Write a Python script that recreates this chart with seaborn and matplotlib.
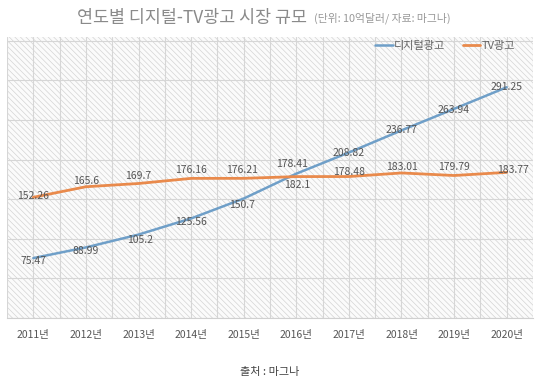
import numpy as np
import pandas as pd
import matplotlib.pyplot as plt
import seaborn as sns
from matplotlib.patches import Rectangle

# Digital vs TV ad market size (unit: 1 billion USD, source: Magna)
years = ['2011년', '2012년', '2013년', '2014년', '2015년',
         '2016년', '2017년', '2018년', '2019년', '2020년']
digital = [75.47, 88.99, 105.2, 125.56, 150.7, 182.1, 208.82, 236.77, 263.94, 291.25]
tv = [152.26, 165.6, 169.7, 176.16, 176.21, 178.41, 178.48, 183.01, 179.79, 183.77]
digital_name = '디지털광고'
tv_name = 'TV광고'

df = pd.DataFrame({'pos': np.arange(len(years)), 'year': years,
                   digital_name: digital, tv_name: tv})

sns.set_style('white')
plt.rcParams['font.family'] = ['Noto Sans CJK KR', 'DejaVu Sans']
plt.rcParams['hatch.linewidth'] = 0.5

blue = '#6f9fc8'
orange = '#e98a4c'

fig = plt.figure(figsize=(5.4, 3.91), dpi=100)
ax = fig.add_axes([0.013, 0.187, 0.974, 0.719])

# hatched plot area like the original Excel chart
ax.add_patch(Rectangle((0, 0), 1, 1, transform=ax.transAxes, facecolor='#fbfbfb',
                       edgecolor='#d4d4d4', linewidth=0, hatch='\\\\\\\\\\\\', zorder=0))

sns.lineplot(data=df, x='pos', y=digital_name, color=blue, linewidth=1.8,
             label=digital_name, ax=ax, zorder=3)
sns.lineplot(data=df, x='pos', y=tv_name, color=orange, linewidth=2,
             label=tv_name, ax=ax, zorder=3)

ax.set_xlim(-0.5, len(years) - 0.5)
ax.set_ylim(0, 355)
ax.set_xticks(df['pos'])
ax.set_xticklabels(years, fontsize=7.5, color='#555555')
ax.set_xticks(np.arange(len(years) + 1) - 0.5, minor=True)
ax.set_yticks(np.arange(0, 351, 50))
ax.set_yticklabels([])
ax.tick_params(axis='both', which='both', length=0)
ax.tick_params(axis='x', pad=9)
ax.grid(True, which='both', color='#d6d6d6', linewidth=0.8)
ax.set_axisbelow(True)
ax.set_xlabel('')
ax.set_ylabel('')
for side in ['top', 'right', 'left']:
    ax.spines[side].set_visible(False)
ax.spines['bottom'].set_color('#d0d0d0')

# value labels (pixel nudges)
dig_off = [(0, -3), (0, -4), (2, -5), (0, -4), (-2, -6), (1, -11), (0, 0), (0, 0), (0, -1), (0, 0)]
tv_off = [(0, 1), (0, 6), (0, 7), (0, 8), (-2, 8), (-4, 13), (0, 5), (0, 6), (0, 9), (6, 2)]
for i, v in enumerate(digital):
    dx, dy = dig_off[i]
    ax.annotate(f'{v:g}', (i, v), xytext=(dx * 0.72, dy * 0.72), textcoords='offset points',
                ha='center', va='center', fontsize=7.5, color='#555555', zorder=4)
for i, v in enumerate(tv):
    dx, dy = tv_off[i]
    ax.annotate(f'{v:g}', (i, v), xytext=(dx * 0.72, dy * 0.72), textcoords='offset points',
                ha='center', va='center', fontsize=7.5, color='#555555', zorder=4)

leg = ax.legend(loc='upper right', bbox_to_anchor=(0.985, 1.02), ncol=2, frameon=False,
                fontsize=8, handlelength=1.6, handletextpad=0.1, columnspacing=1.6)
for t in leg.get_texts():
    t.set_color('#666666')

fig.text(0.143, 0.955, '연도별 디지털-TV광고 시장 규모', fontsize=12.5, color='#8a8a8a',
         ha='left', va='center')
fig.text(0.582, 0.953, '(단위: 10억달러/ 자료: 마그나)', fontsize=7.8, color='#999999',
         ha='left', va='center')
fig.text(0.5, 0.049, '출처 : 마그나', fontsize=8, color='#444444', ha='center', va='center')

fig.savefig('out.png', dpi=100)
